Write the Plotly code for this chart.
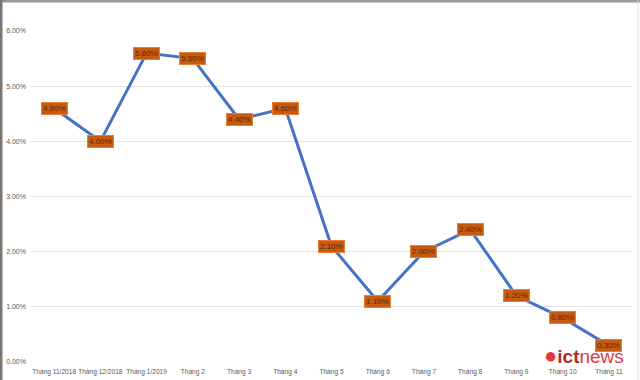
import plotly.graph_objects as go

categories = ["Tháng 11/2018", "Tháng 12/2018", "Tháng 1/2019", "Tháng 2", "Tháng 3",
              "Tháng 4", "Tháng 5", "Tháng 6", "Tháng 7", "Tháng 8", "Tháng 9",
              "Tháng 10", "Tháng 11"]
values = [4.60, 4.00, 5.60, 5.50, 4.40, 4.60, 2.10, 1.10, 2.00, 2.40, 1.20, 0.80, 0.30]
y_ticks = [0, 1, 2, 3, 4, 5, 6]

FONT = "Liberation Sans, Arial"

fig = go.Figure()
fig.add_trace(go.Scatter(
    x=categories, y=values, mode="lines",
    line=dict(color="#4472C4", width=3),
    hoverinfo="skip", showlegend=False,
))

annotations = []
for c, v in zip(categories, values):
    annotations.append(dict(
        x=c, y=v, xref="x", yref="y", text=f"{v:.2f}%", showarrow=False,
        font=dict(family=FONT, size=8, color="#5a2a0a"),
        bgcolor="#C55A11", bordercolor="#ED7D31", borderwidth=1, borderpad=1,
    ))

# ictnews logo
annotations.append(dict(
    x=1.0, y=0.0, xref="paper", yref="paper", xanchor="right", yanchor="bottom",
    xshift=-6, yshift=-8, showarrow=False,
    text='<span style="color:#E03A3E;font-size:22px">●</span>'
         '<span style="color:#B0282C;font-size:19px"><b>ict</b></span>'
         '<span style="color:#E03A3E;font-size:19px">news</span>',
    font=dict(family=FONT, size=19),
))

fig.update_layout(
    width=640, height=380,
    margin=dict(l=31, r=8, t=31, b=18, autoexpand=False),
    paper_bgcolor="white", plot_bgcolor="white",
    font=dict(family=FONT, size=7, color="#595959"),
    xaxis=dict(
        type="category", range=[-0.5, len(categories) - 0.5],
        showgrid=False, showline=False, zeroline=False, ticks="",
        tickangle=0, automargin=False, ticklabelstandoff=4,
        tickfont=dict(family=FONT, size=6.6, color="#595959"),
    ),
    yaxis=dict(
        range=[0, 6], tickvals=y_ticks,
        ticktext=[f"{t:.2f}%" for t in y_ticks],
        showgrid=True, gridcolor="#E4E4E4", gridwidth=1,
        zeroline=False, showline=False, ticks="", automargin=False,
        ticklabelstandoff=4,
        tickfont=dict(family=FONT, size=7, color="#595959"),
    ),
    annotations=annotations,
    shapes=[
        dict(type="line", xref="paper", yref="paper", x0=-31/601, x1=1 + 8/601, y0=1 + 30/331, y1=1 + 30/331,
             line=dict(color="#999999", width=3)),
        dict(type="line", xref="paper", yref="paper", x0=-30/601, x1=-30/601, y0=-18/331, y1=1 + 31/331,
             line=dict(color="#777777", width=3)),
        dict(type="line", xref="paper", yref="paper", x0=1 + 6/601, x1=1 + 6/601, y0=-18/331, y1=1 + 31/331,
             line=dict(color="#DDDDDD", width=1)),
    ],
)

fig.write_html("out.html", config={"displayModeBar": False},
               post_script="document.body.style.margin='0';")
